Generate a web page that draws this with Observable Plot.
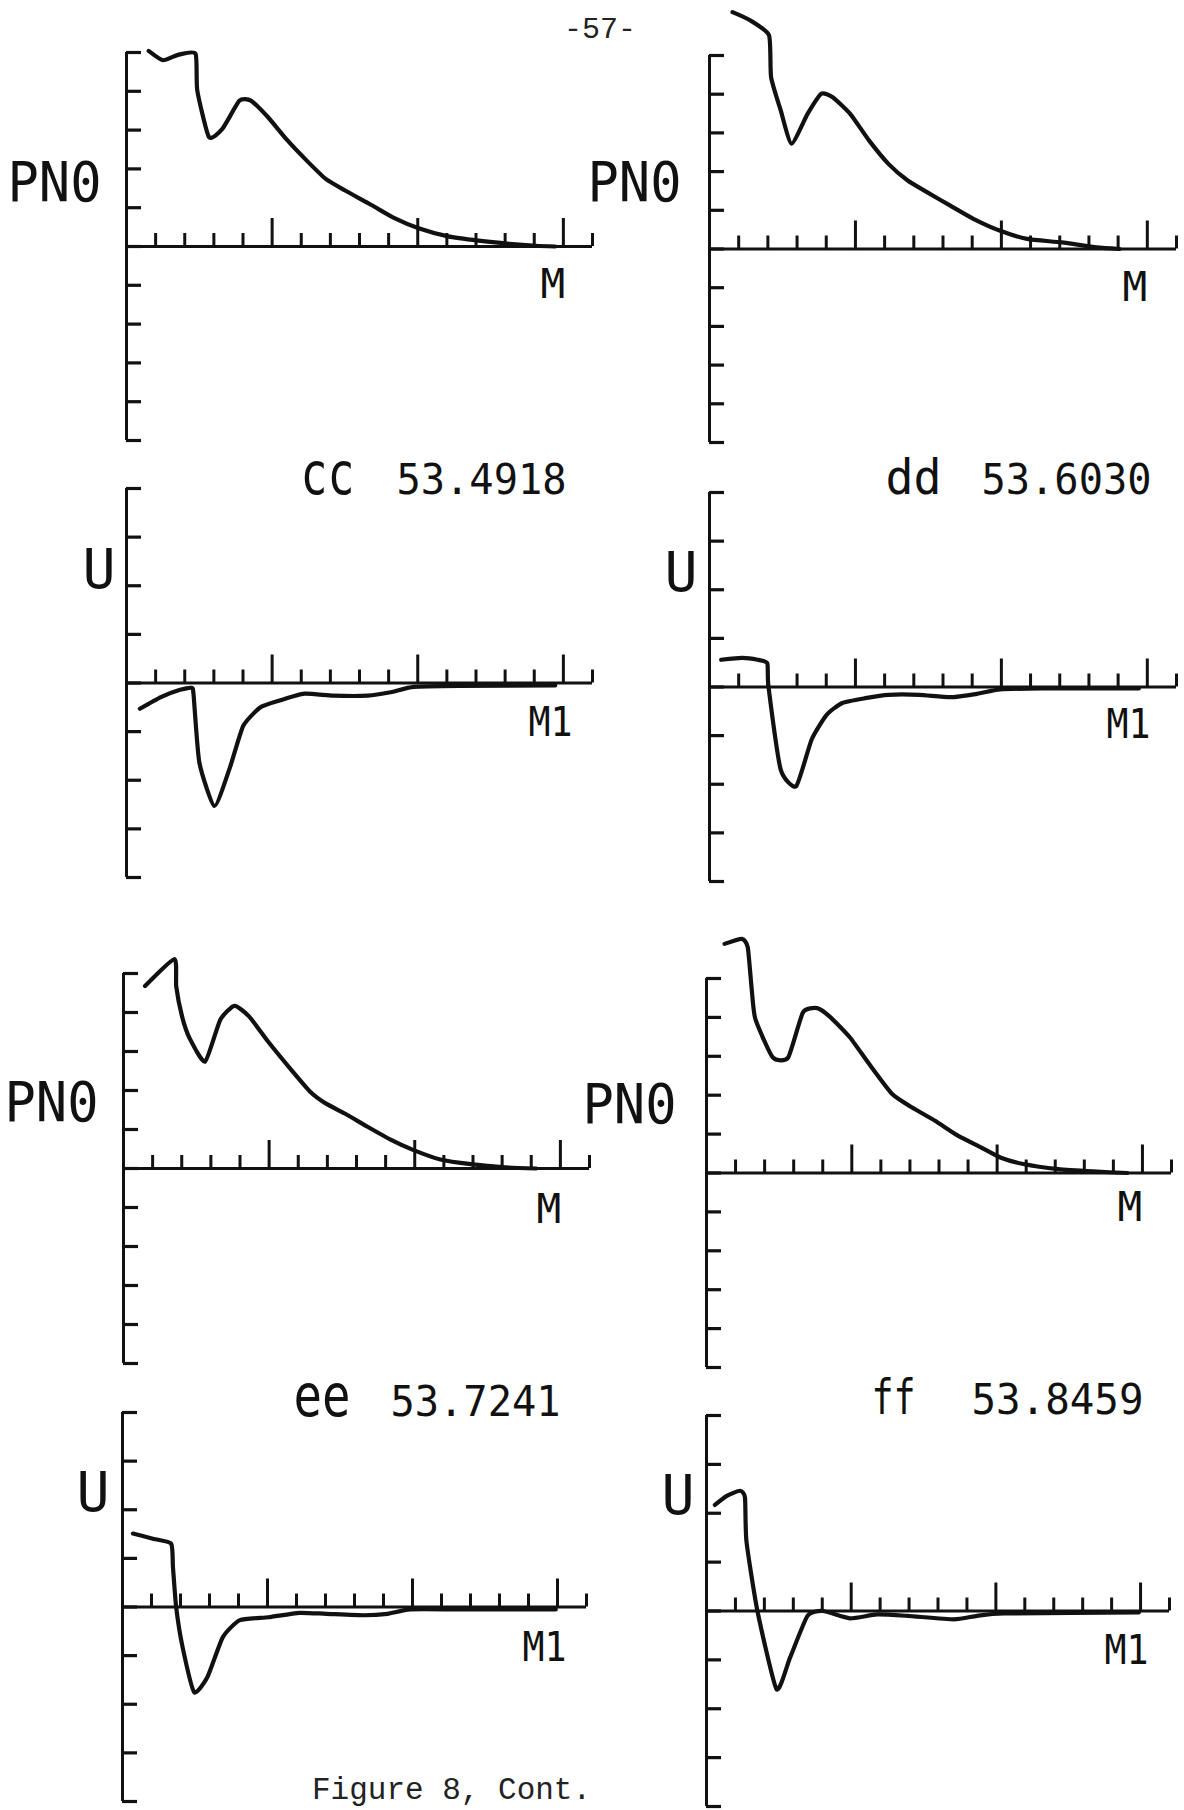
<!DOCTYPE html>
<html>
<head>
<meta charset="utf-8">
<script src="https://cdn.jsdelivr.net/npm/d3@7"></script>
<script src="https://cdn.jsdelivr.net/npm/@observablehq/plot@0.6"></script>
<style>
  html, body { margin: 0; padding: 0; background: #fff; }
  #page { position: relative; width: 1184px; height: 1810px; overflow: hidden; background: #fff; }
  #page svg { position: absolute; overflow: visible; }
  .typed { position: absolute; font-family: "Liberation Mono", "DejaVu Sans Mono", monospace; color: #222; white-space: pre; line-height: 1; }
</style>
</head>
<body>
<div id="page"></div>
<script>
// ---------------- data ----------------
const xTicks = [1, 2, 3, 4, 5, 6, 7, 8, 9, 10, 11, 12, 13, 14, 15, 16];
const pnoTicks = [-5, -4, -3, -2, -1, 0, 1, 2, 3, 4, 5];
const uTicks = [-4, -3, -2, -1, 0, 1, 2, 3, 4];

// cc 53.4918
const ccM = [0.76, 1.25, 1.77, 2.37, 2.43, 2.83, 3.29, 3.88, 4.27, 4.86, 5.52, 6.18, 6.83, 7.49, 8.41, 9.2, 10.03, 11.04, 12.09, 13.14, 14.06, 14.72];
const ccPNO = [5.04, 4.80, 4.94, 4.97, 4.02, 2.82, 3.03, 3.76, 3.76, 3.33, 2.74, 2.22, 1.75, 1.45, 1.07, 0.73, 0.47, 0.26, 0.15, 0.07, 0.02, 0.0];
const ccM1 = [0.46, 1.18, 1.84, 2.23, 2.30, 2.50, 3.02, 3.55, 4.01, 4.60, 5.26, 6.11, 7.10, 8.28, 9.07, 9.86, 11.43, 14.72];
const ccU = [-0.53, -0.29, -0.14, -0.10, -0.22, -1.63, -2.53, -1.74, -0.88, -0.50, -0.36, -0.22, -0.26, -0.26, -0.19, -0.08, -0.06, -0.05];

// dd 53.6030
const ddM = [0.79, 1.39, 2.04, 2.11, 2.44, 2.81, 3.36, 3.83, 4.22, 4.82, 5.47, 6.13, 6.79, 7.45, 8.25, 9.04, 9.96, 10.88, 12.07, 13.26, 14.05];
const ddPNO = [6.12, 5.91, 5.52, 4.44, 3.58, 2.72, 3.49, 4.01, 3.92, 3.49, 2.80, 2.20, 1.77, 1.47, 1.12, 0.78, 0.47, 0.26, 0.17, 0.04, 0.0];
const ddM1 = [0.40, 1.12, 1.65, 1.98, 2.02, 2.44, 2.97, 3.50, 4.02, 4.55, 5.34, 6.13, 7.19, 8.25, 9.17, 9.96, 11.41, 14.71];
const ddU = [0.56, 0.60, 0.56, 0.49, 0.01, -1.70, -2.04, -1.08, -0.57, -0.33, -0.23, -0.16, -0.16, -0.21, -0.14, -0.05, -0.03, -0.03];

// ee 53.7241
const eeM = [0.74, 1.75, 1.81, 2.01, 2.27, 2.80, 3.32, 3.81, 4.31, 4.97, 5.76, 6.41, 6.94, 7.60, 8.38, 9.17, 9.96, 10.88, 11.93, 13.11, 14.17];
const eePNO = [4.68, 5.37, 4.67, 3.90, 3.34, 2.74, 3.81, 4.17, 3.90, 3.25, 2.53, 1.97, 1.67, 1.41, 1.07, 0.74, 0.47, 0.23, 0.11, 0.03, 0.0];
const eeM1 = [0.36, 1.08, 1.68, 1.74, 1.85, 2.07, 2.47, 2.93, 3.46, 4.05, 5.04, 6.10, 7.02, 8.34, 9.14, 9.93, 11.64, 14.94];
const eeU = [1.51, 1.40, 1.30, 0.82, 0.0, -0.82, -1.75, -1.44, -0.62, -0.27, -0.21, -0.12, -0.14, -0.17, -0.14, -0.05, -0.05, -0.05];

// ff 53.8459
const ffM = [0.62, 1.22, 1.42, 1.55, 1.68, 2.28, 2.81, 3.32, 3.81, 4.27, 4.93, 5.60, 6.39, 7.06, 7.85, 8.65, 9.44, 10.11, 10.90, 12.10, 13.29, 14.48];
const ffPNO = [5.89, 6.02, 5.80, 4.77, 3.96, 2.97, 2.97, 4.13, 4.24, 4.00, 3.49, 2.80, 2.03, 1.69, 1.35, 0.96, 0.66, 0.40, 0.23, 0.10, 0.04, 0.0];
const ffM1 = [0.29, 0.69, 1.16, 1.33, 1.38, 1.76, 2.42, 2.89, 3.49, 4.02, 4.95, 5.89, 6.95, 8.55, 9.35, 10.28, 14.94];
const ffU = [2.17, 2.35, 2.46, 2.32, 1.43, 0.0, -1.60, -0.95, -0.10, 0.0, -0.15, -0.07, -0.10, -0.17, -0.10, -0.05, -0.03];

const runNames = ["cc", "dd", "ee", "ff"];
const runValues = ["53.4918", "53.6030", "53.7241", "53.8459"];
const pageNumber = "-57-";
const caption = "Figure 8, Cont.";

// ---------------- layout ----------------
const INK = "#111";
const LABEL_FONT = "DejaVu Sans Mono";

const panels = [
  {xs: ccM,  ys: ccPNO, ticks: pnoTicks, col: 0, X0: 126, XE: 592,  T: 52,   B: 440,
   labels: [{t: "PN0", x: 7, b: 200, s: 56, w: 94}, {t: "M", x: 540, b: 297, s: 41}]},
  {xs: ddM,  ys: ddPNO, ticks: pnoTicks, col: 1, X0: 709, XE: 1176, T: 55,   B: 442,
   labels: [{t: "PN0", x: 587, b: 200, s: 56, w: 94}, {t: "M", x: 1122, b: 300, s: 41}]},
  {xs: ccM1, ys: ccU,   ticks: uTicks,   col: 0, X0: 126, XE: 592,  T: 488,  B: 877,
   labels: [{t: "U", x: 82, b: 587, s: 55}, {t: "M1", x: 528, b: 735, s: 41, w: 44},
            {t: runNames[0], x: 300, b: 493, s: 58, w: 54}, {t: runValues[0], x: 396, b: 493, s: 43, w: 170}]},
  {xs: ddM1, ys: ddU,   ticks: uTicks,   col: 1, X0: 709, XE: 1176, T: 492,  B: 881,
   labels: [{t: "U", x: 664, b: 590, s: 55}, {t: "M1", x: 1106, b: 737, s: 41, w: 44},
            {t: runNames[1], x: 885, b: 493, s: 48, w: 56}, {t: runValues[1], x: 981, b: 493, s: 43, w: 170}]},
  {xs: eeM,  ys: eePNO, ticks: pnoTicks, col: 0, X0: 123, XE: 589,  T: 973,  B: 1363,
   labels: [{t: "PN0", x: 4, b: 1120, s: 56, w: 94}, {t: "M", x: 536, b: 1222, s: 41}]},
  {xs: ffM,  ys: ffPNO, ticks: pnoTicks, col: 1, X0: 706, XE: 1171, T: 978,  B: 1367,
   labels: [{t: "PN0", x: 582, b: 1122, s: 56, w: 94}, {t: "M", x: 1117, b: 1220, s: 41}]},
  {xs: eeM1, ys: eeU,   ticks: uTicks,   col: 0, X0: 122, XE: 586,  T: 1412, B: 1801,
   labels: [{t: "U", x: 76, b: 1510, s: 55}, {t: "M1", x: 522, b: 1660, s: 41, w: 44},
            {t: runNames[2], x: 293, b: 1415, s: 58, w: 57}, {t: runValues[2], x: 390, b: 1415, s: 43, w: 170}]},
  {xs: ffM1, ys: ffU,   ticks: uTicks,   col: 1, X0: 706, XE: 1169, T: 1415, B: 1806,
   labels: [{t: "U", x: 661, b: 1513, s: 55}, {t: "M1", x: 1104, b: 1663, s: 41, w: 44},
            {t: runNames[3], x: 871, b: 1413, s: 48, w: 44}, {t: runValues[3], x: 971, b: 1413, s: 43, w: 172}]}
];

const page = document.getElementById("page");

for (const p of panels) {
  const yMax = d3.max(p.ticks);
  const pxX = (p.XE - p.X0) / 16;
  const pxY = (p.B - p.T) / (2 * yMax);
  const left = p.col === 0 ? 0 : 560;
  const right = p.col === 0 ? 600 : 1184;
  const mT = 70, mB = 20;
  const mL = p.X0 - left, mR = right - p.XE;
  const data = p.xs.map((x, i) => ({x, y: p.ys[i]}));

  const marks = [
    // vertical axis with inward ticks
    Plot.ruleX([0], {y1: -yMax, y2: yMax, stroke: INK, strokeWidth: 3}),
    Plot.ruleY(p.ticks, {y: d => d, x1: 0, x2: 15 / pxX, stroke: INK, strokeWidth: 3.2}),
    // horizontal axis with upward ticks
    Plot.ruleY([0], {x1: 0, x2: 16, stroke: INK, strokeWidth: 3}),
    Plot.ruleX(xTicks, {x: d => d, y1: 0, y2: d => (d % 5 === 0 ? 28 : 13) / pxY, stroke: INK, strokeWidth: 3}),
    // the curve
    Plot.line(data, {x: "x", y: "y", curve: "cardinal", tension: 0.45, stroke: INK, strokeWidth: 4.2, strokeLinejoin: "round", strokeLinecap: "round"})
  ];
  for (const l of p.labels) {
    marks.push(Plot.text([l.t], {
      text: d => d, frameAnchor: "top-left", dx: l.x - p.X0, dy: l.b - p.T,
      textAnchor: "start", lineAnchor: "bottom", fontSize: l.s, fontFamily: LABEL_FONT, fill: INK
    }));
  }

  const svg = Plot.plot({
    width: right - left,
    height: (p.B - p.T) + mT + mB,
    marginLeft: mL, marginRight: mR, marginTop: mT, marginBottom: mB,
    x: {type: "linear", domain: [0, 16], axis: null},
    y: {type: "linear", domain: [-yMax, yMax], axis: null},
    style: {background: "transparent", overflow: "visible"},
    marks
  });
  svg.style.left = left + "px";
  svg.style.top = (p.T - mT) + "px";

  // fit label widths to the reference
  const groups = svg.querySelectorAll('g[aria-label="text"]');
  p.labels.forEach((l, i) => {
    if (!l.w || !groups[i]) return;
    groups[i].querySelectorAll("text").forEach(t => {
      t.setAttribute("textLength", l.w);
      t.setAttribute("lengthAdjust", "spacingAndGlyphs");
    });
  });
  page.appendChild(svg);
}

// page number and caption (typed text on the page)
const pn = document.createElement("div");
pn.className = "typed";
pn.textContent = pageNumber;
pn.style.fontSize = "30px";
pn.style.left = "564px";
pn.style.top = "15px";
page.appendChild(pn);

const cap = document.createElement("div");
cap.className = "typed";
cap.textContent = caption;
cap.style.fontSize = "31px";
cap.style.left = "312px";
cap.style.top = "1775px";
page.appendChild(cap);
</script>
</body>
</html>
